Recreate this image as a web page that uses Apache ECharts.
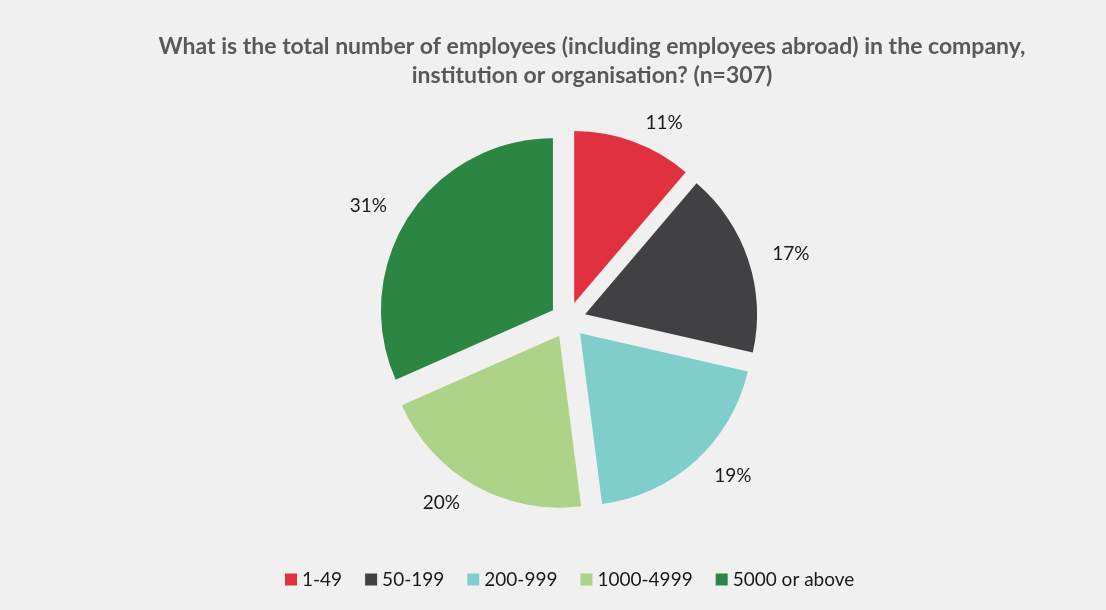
<!DOCTYPE html>
<html><head><meta charset="utf-8">
<script src="https://cdn.jsdelivr.net/npm/echarts@6/dist/echarts.min.js"></script>
<style>html,body{margin:0;padding:0;background:#f0f0f0;}#c{width:1106px;height:610px;}</style>
</head><body><div id="c"></div>
<script>
const categories = ['1-49', '50-199', '200-999', '1000-4999', '5000 or above'];
const values = [11, 17, 19, 20, 31];
const colors = ['#e1303e', '#414143', '#7fcecb', '#acd387', '#2a8642'];
const titleText = 'What is the total number of employees (including employees abroad) in the company,\ninstitution or organisation? (n=307)';

const chart = echarts.init(document.getElementById('c'));
chart.setOption({
  backgroundColor: '#f0f0f0',
  animation: false,
  title: {
    text: titleText,
    left: 587, top: 27, textAlign: 'center',
    textStyle: { fontFamily: 'Lato', fontSize: 23, fontWeight: 'bold', color: '#595959', lineHeight: 29 }
  },
  legend: {
    data: categories, bottom: 16, left: 280,
    icon: 'rect', itemWidth: 12, itemHeight: 12, itemGap: 23,
    textStyle: { fontFamily: 'Lato', fontSize: 19, color: '#1a1a1a' },
    selectedMode: false
  },
  series: [{
    type: 'pie',
    center: [568, 320],
    radius: 172,
    startAngle: 90,
    clockwise: true,
    selectedMode: 'multiple',
    selectedOffset: 18,
    silent: true,
    label: {
      show: true, position: 'outside', formatter: '{c}%',
      fontFamily: 'Lato', fontSize: 19, color: '#1a1a1a'
    },
    labelLine: { show: false, length: 20, length2: 0 },
    data: categories.map((n, i) => ({
      name: n, value: values[i], selected: true,
      itemStyle: { color: colors[i] },
      select: { itemStyle: { color: colors[i], borderWidth: 0 } }
    }))
  }]
});
</script></body></html>
